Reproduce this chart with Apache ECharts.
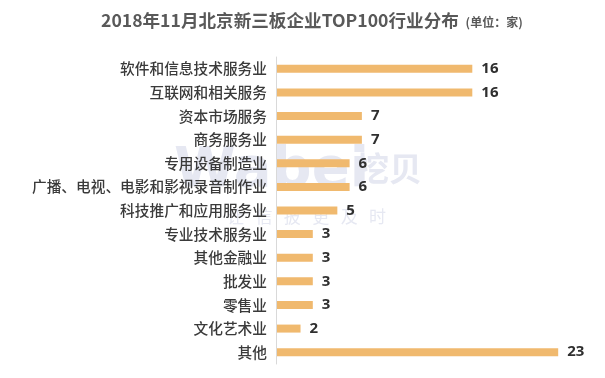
<!DOCTYPE html>
<html>
<head>
<meta charset="utf-8">
<script src="https://cdn.jsdelivr.net/npm/echarts@6/dist/echarts.min.js"></script>
<style>
html,body{margin:0;padding:0;background:#fff;}
#main{width:605px;height:378px;}
</style>
</head>
<body>
<div id="main"></div>
<script>
var titleText = '2018年11月北京新三板企业TOP100行业分布';
var unitText = '(单位：家)';
var categories = ['软件和信息技术服务业','互联网和相关服务','资本市场服务','商务服务业','专用设备制造业','广播、电视、电影和影视录音制作业','科技推广和应用服务业','专业技术服务业','其他金融业','批发业','零售业','文化艺术业','其他'];
var values = [16,16,7,7,6,6,5,3,3,3,3,2,23];
var watermarkMain = 'Wabei';
var watermarkCn = '挖贝';
var watermarkSlogan = '让   信   披   更   及   时';

var chart = echarts.init(document.getElementById('main'), null, {renderer:'canvas'});
var cjk = '"Noto Sans CJK SC", "Microsoft YaHei", sans-serif';
chart.setOption({
  backgroundColor:'#ffffff',
  animation:false,
  title:{
    left:96, top:7,
    text:'{a|' + titleText + '}{b| ' + unitText + '}',
    textStyle:{
      rich:{
        a:{fontSize:17.6, fontWeight:'bold', color:'#595959', fontFamily:cjk},
        b:{fontSize:12, color:'#595959', fontFamily:cjk, padding:[4,0,0,4]}
      }
    }
  },
  graphic:[
    {type:'text', left:174, top:143, z:0, silent:true,
     style:{text:watermarkMain, font:'bold 56px "DejaVu Sans"', fill:'#e6e8f2'}},
    {type:'text', left:356, top:152, z:0, silent:true,
     style:{text:watermarkCn, font:'bold 33px "Noto Sans CJK SC"', fill:'#e6e8f2'}},
    {type:'text', left:227, top:208, z:0, silent:true,
     style:{text:watermarkSlogan, font:'17px "Noto Sans CJK SC"', fill:'#e6e8f2'}}
  ],
  grid:{left:276, top:57, width:319, height:307},
  xAxis:{type:'value', min:0, max:26, show:false, splitLine:{show:false}},
  yAxis:{
    type:'category', data:categories, inverse:true, z:3,
    axisLine:{show:true, lineStyle:{color:'#d9d9d9', width:1}},
    axisTick:{show:false},
    axisLabel:{margin:9, fontSize:14.7, fontWeight:500, color:'#3a3a3a', fontFamily:cjk}
  },
  series:[{
    type:'bar', data:values, barWidth:8, z:2,
    itemStyle:{color:'#f0b96e'},
    label:{show:true, position:'right', distance:9, fontSize:15, fontWeight:'bold', color:'#2f2f2f', fontFamily:'"Noto Sans", sans-serif'}
  }]
});
</script>
</body>
</html>
